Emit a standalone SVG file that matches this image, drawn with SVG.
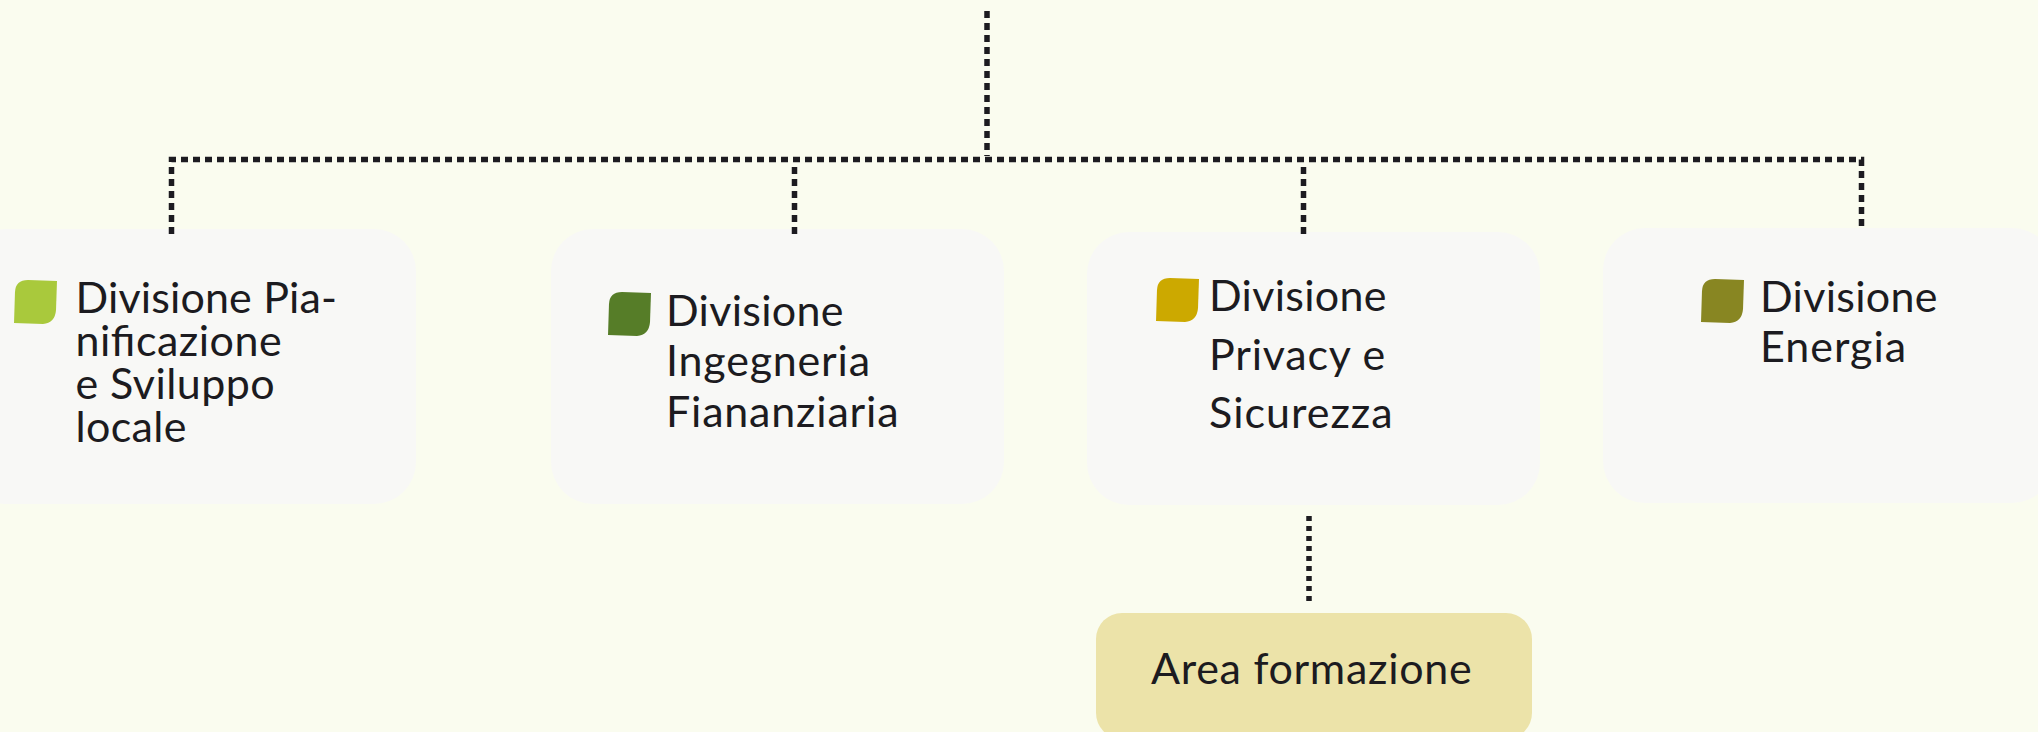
<svg xmlns="http://www.w3.org/2000/svg" width="2038" height="732" viewBox="0 0 2038 732">
<style>
text{font-family:"Lato","Noto Sans",sans-serif;font-size:43px;fill:#1c1b20;font-feature-settings:"liga" 1;font-variant-ligatures:common-ligatures}
.card{fill:#f8f8f6}
.c{fill:none;stroke:#1c1b20;stroke-width:5.500;stroke-dasharray:7 5}
</style>
<defs><path id="leaf" d="M0 43 L1 12 Q1.500 0 14 0 L43 1 L42 30 Q41 43 29 44 Z"/></defs>
<rect width="2038" height="732" fill="#fafcef"/>
<g id="node-pianificazione"><rect class="card" x="-35" y="229" width="451" height="275" rx="42"/><use href="#leaf" x="14" y="280" fill="#a9c93c"/>
<text x="75.500" y="313" letter-spacing="0.150">Divisione Pia-</text><text x="75.500" y="356" letter-spacing="0.500">nificazione</text><text x="75.500" y="399" letter-spacing="0.450">e Sviluppo</text><text x="75.500" y="442" letter-spacing="0.350">locale</text></g>
<g id="node-ingegneria"><rect class="card" x="551" y="229" width="453" height="275" rx="42"/><use href="#leaf" x="608" y="292" fill="#567d28"/>
<text x="666" y="326" letter-spacing="0.300">Divisione</text><text x="666" y="376" letter-spacing="0.800">Ingegneria</text><text x="666" y="427" letter-spacing="0.800">Fiananziaria</text></g>
<g id="node-privacy"><rect class="card" x="1087" y="232" width="453" height="273" rx="42"/><use href="#leaf" x="1156" y="278" fill="#cca900"/>
<text x="1209" y="311" letter-spacing="0.300">Divisione</text><text x="1209" y="370" letter-spacing="0.800">Privacy e</text><text x="1209" y="428" letter-spacing="1">Sicurezza</text></g>
<g id="node-energia"><rect class="card" x="1603" y="228" width="451" height="275" rx="42"/><use href="#leaf" x="1701" y="279" fill="#888622"/>
<text x="1760" y="312" letter-spacing="0.300">Divisione</text><text x="1760" y="362" letter-spacing="1">Energia</text></g>
<g id="node-formazione"><rect x="1096" y="613" width="436" height="126" rx="26" fill="#ece3a9"/>
<text x="1151" y="684" letter-spacing="0.700">Area formazione</text></g>
<g id="connectors">
<path class="c" d="M987 11V156"/>
<path class="c" d="M171.500 234V159.500H1861.500V226"/>
<path class="c" d="M794.500 234V162"/>
<path class="c" d="M1303.500 234V162"/>
<path class="c" d="M1309 516V603" style="stroke-dasharray:5 5"/>
</g>
</svg>
